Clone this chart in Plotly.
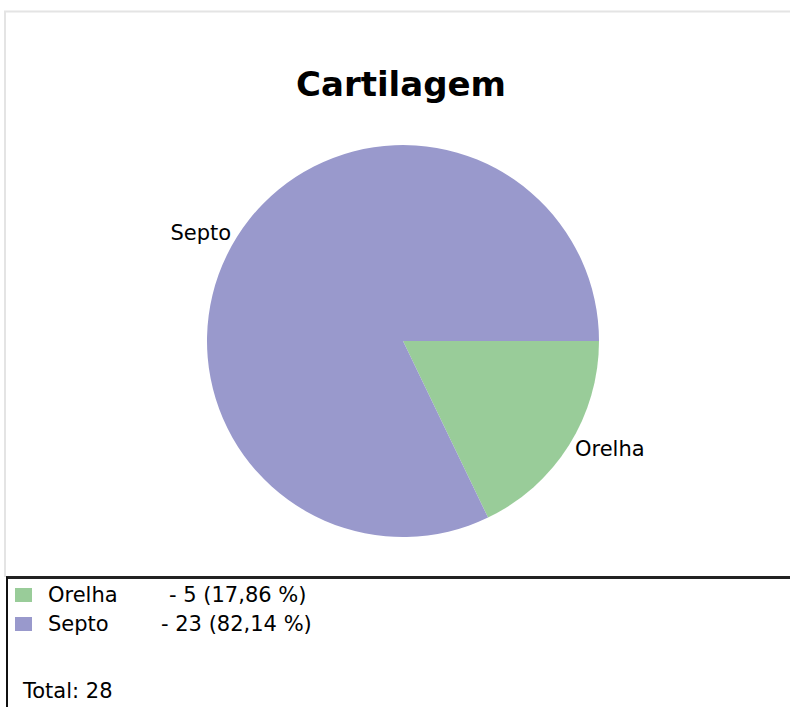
import plotly.graph_objects as go

W, H = 790, 707
title = "Cartilagem"
labels = ["Orelha", "Septo"]
values = [5, 23]
colors = ["#99cc99", "#9999cc"]

def px(x):
    return x / W

def py(y):
    return 1 - y / H

total = sum(values)
FONT = "DejaVu Sans"
FS = 21

fig = go.Figure(go.Pie(
    labels=labels, values=values, sort=False, direction="clockwise", rotation=90,
    marker=dict(colors=colors, line=dict(width=0)),
    textinfo="label", textposition="outside",
    textfont=dict(family=FONT, size=FS, color="#000000"),
    showlegend=False, hoverinfo="skip",
    domain=dict(x=[px(207), px(599)], y=[py(537), py(145)]),
))

shapes = [
    dict(type="line", xref="paper", yref="paper", x0=px(4), x1=px(790), y0=py(11.5), y1=py(11.5),
         line=dict(color="#e4e4e4", width=2)),
    dict(type="line", xref="paper", yref="paper", x0=px(5), x1=px(5), y0=py(11), y1=py(577),
         line=dict(color="#e4e4e4", width=2)),
    dict(type="line", xref="paper", yref="paper", x0=px(6), x1=px(790), y0=py(577.5), y1=py(577.5),
         line=dict(color="#222222", width=3)),
    dict(type="line", xref="paper", yref="paper", x0=px(7), x1=px(7), y0=py(577), y1=py(707),
         line=dict(color="#111111", width=2)),
]

annotations = [
    dict(text="<b>" + title + "</b>", x=px(401), y=py(84), xref="paper", yref="paper",
         xanchor="center", yanchor="middle", showarrow=False,
         font=dict(family=FONT, size=34, color="#000000")),
]

legend_x_label = [46, 46]
legend_x_val = [167, 159]
row_y = [595, 624]
for i, (lab, v, c) in enumerate(zip(labels, values, colors)):
    shapes.append(dict(type="rect", xref="paper", yref="paper", x0=px(15), x1=px(32),
                       y0=py(row_y[i] - 7), y1=py(row_y[i] + 7), fillcolor=c, line=dict(width=0)))
    annotations.append(dict(text=lab, x=px(legend_x_label[i]), y=py(row_y[i]), xref="paper", yref="paper",
                            xanchor="left", yanchor="middle", showarrow=False,
                            font=dict(family=FONT, size=FS, color="#000000")))
    pct = f"{100 * v / total:.2f}".replace(".", ",")
    annotations.append(dict(text=f"- {v} ({pct} %)", x=px(legend_x_val[i]), y=py(row_y[i]), xref="paper", yref="paper",
                            xanchor="left", yanchor="middle", showarrow=False,
                            font=dict(family=FONT, size=FS, color="#000000")))

annotations.append(dict(text=f"Total: {total}", x=px(20), y=py(691), xref="paper", yref="paper",
                        xanchor="left", yanchor="middle", showarrow=False,
                        font=dict(family=FONT, size=FS, color="#000000")))

fig.update_layout(
    width=W, height=H, margin=dict(l=0, r=0, t=0, b=0),
    paper_bgcolor="#ffffff", plot_bgcolor="#ffffff",
    shapes=shapes, annotations=annotations,
)

fig.write_html("out.html", config={"displayModeBar": False},
               post_script="document.body.style.margin='0';document.body.style.overflow='hidden';")
